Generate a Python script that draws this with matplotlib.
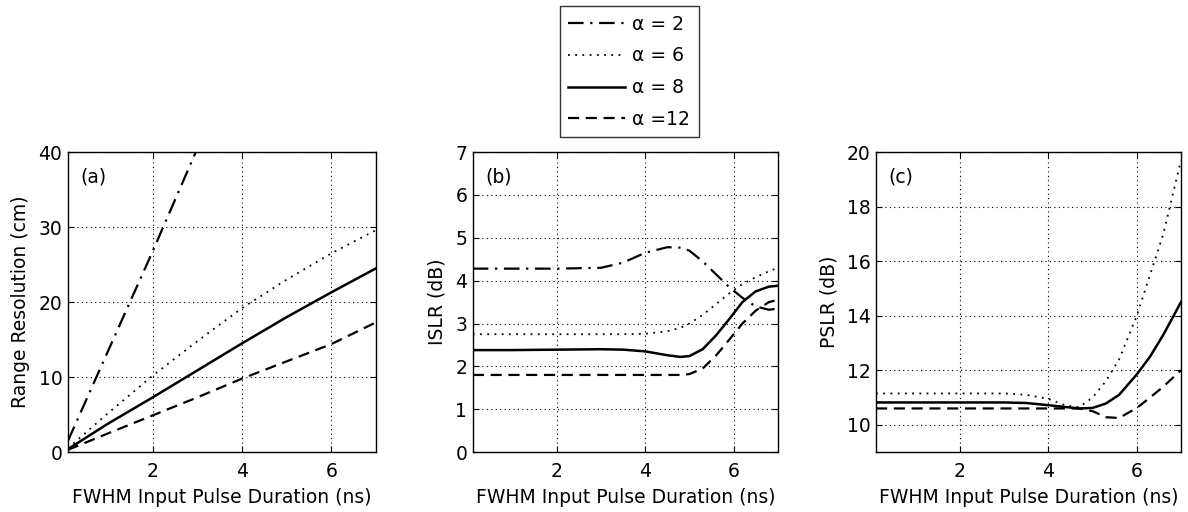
import matplotlib.pyplot as plt
import numpy as np

plt.rcParams['font.family'] = ['DejaVu Sans']
plt.rcParams['font.size'] = 13.5

labels = ['\u03b1 = 2', '\u03b1 = 6', '\u03b1 = 8', '\u03b1 =12']
styles = [(0, (7, 3, 1, 3)), (0, (1, 3)), '-', (0, (5, 3))]
widths = [1.6, 1.3, 1.8, 1.6]

# (a) range resolution (cm)
xa = [0.1, 1.0, 2.0, 3.0, 4.0, 5.0, 6.0, 7.0]
res_a2 = [1.5, 13.5, 26.8, 40.5, None, None, None, None]
res_a6 = [0.5, 5.2, 10.2, 14.8, 19.2, 23.0, 26.5, 29.6]
res_a8 = [0.4, 3.8, 7.3, 10.9, 14.5, 18.0, 21.3, 24.5]
res_a12 = [0.3, 2.5, 4.9, 7.3, 9.8, 12.1, 14.4, 17.3]

# (b) ISLR (dB)
xb = [0.1, 1.0, 2.0, 3.0, 3.5, 4.0, 4.5, 4.8, 5.0, 5.3, 5.6, 5.9, 6.2, 6.5, 6.8, 7.0]
islr_a2 = [4.28, 4.28, 4.28, 4.3, 4.42, 4.65, 4.78, 4.77, 4.7, 4.45, 4.15, 3.85, 3.6, 3.4, 3.32, 3.35]
islr_a6 = [2.75, 2.75, 2.75, 2.75, 2.75, 2.76, 2.82, 2.9, 3.0, 3.2, 3.45, 3.7, 3.92, 4.08, 4.22, 4.3]
islr_a8 = [2.38, 2.38, 2.39, 2.4, 2.39, 2.35, 2.26, 2.22, 2.24, 2.4, 2.72, 3.1, 3.5, 3.75, 3.86, 3.88]
islr_a12 = [1.8, 1.8, 1.8, 1.8, 1.8, 1.8, 1.8, 1.8, 1.82, 1.95, 2.25, 2.62, 3.0, 3.3, 3.5, 3.55]

# (c) PSLR (dB)
xc = [0.1, 1.0, 2.0, 3.0, 3.5, 4.0, 4.4, 4.7, 5.0, 5.3, 5.6, 6.0, 6.3, 6.6, 7.0]
pslr_a6 = [11.15, 11.15, 11.15, 11.15, 11.1, 10.95, 10.7, 10.65, 11.0, 11.6, 12.4, 14.0, 15.5, 17.0, 19.7]
pslr_a8 = [10.82, 10.82, 10.82, 10.82, 10.8, 10.72, 10.65, 10.6, 10.62, 10.78, 11.1, 11.85, 12.5, 13.3, 14.5]
pslr_a12 = [10.6, 10.6, 10.6, 10.6, 10.6, 10.6, 10.6, 10.6, 10.5, 10.28, 10.25, 10.62, 11.0, 11.4, 12.0]

fig = plt.figure(figsize=(11.88, 5.12), dpi=100)
axa = fig.add_axes([0.0572, 0.117, 0.2593, 0.586])
axb = fig.add_axes([0.398, 0.117, 0.2567, 0.586])
axc = fig.add_axes([0.7374, 0.117, 0.2567, 0.586])

handles = []
for y, ls, lw in zip([res_a2, res_a6, res_a8, res_a12], styles, widths):
    arr = np.array([np.nan if v is None else v for v in y], dtype=float)
    h, = axa.plot(xa, arr, color='black', ls=ls, lw=lw)
    handles.append(h)

for y, ls, lw in zip([islr_a2, islr_a6, islr_a8, islr_a12], styles, widths):
    axb.plot(xb, y, color='black', ls=ls, lw=lw)

for y, ls, lw in zip([pslr_a6, pslr_a8, pslr_a12], styles[1:], widths[1:]):
    axc.plot(xc, y, color='black', ls=ls, lw=lw)

axa.set_ylim(0, 40)
axa.set_yticks([0, 10, 20, 30, 40])
axa.set_ylabel('Range Resolution (cm)')
axb.set_ylim(0, 7)
axb.set_yticks(range(0, 8))
axb.set_ylabel('ISLR (dB)')
axc.set_ylim(9, 20)
axc.set_yticks([10, 12, 14, 16, 18, 20])
axc.set_ylabel('PSLR (dB)')

for ax, tag in zip([axa, axb, axc], ['(a)', '(b)', '(c)']):
    ax.set_xlim(0.1, 7.0)
    ax.set_xticks([2, 4, 6])
    ax.set_xlabel('FWHM Input Pulse Duration (ns)', labelpad=5)
    ax.grid(True, color='black', ls=(0, (1, 3)), lw=0.8)
    ax.tick_params(direction='in', top=True, right=True, length=4, pad=4)
    ax.tick_params(axis='x', pad=7)
    ax.text(0.04, 0.95, tag, transform=ax.transAxes, va='top', ha='left')
    ax.yaxis.labelpad = 6
    for s in ax.spines.values():
        s.set_linewidth(1.0)

leg = fig.legend(handles, labels, loc='upper left', bbox_to_anchor=(0.4714, 0.988),
                 borderaxespad=0, frameon=True, fancybox=False, edgecolor='black',
                 handlelength=3.0, labelspacing=0.68, handletextpad=0.4, borderpad=0.45)
leg.get_frame().set_linewidth(1.0)

fig.savefig('out.png', dpi=100)
